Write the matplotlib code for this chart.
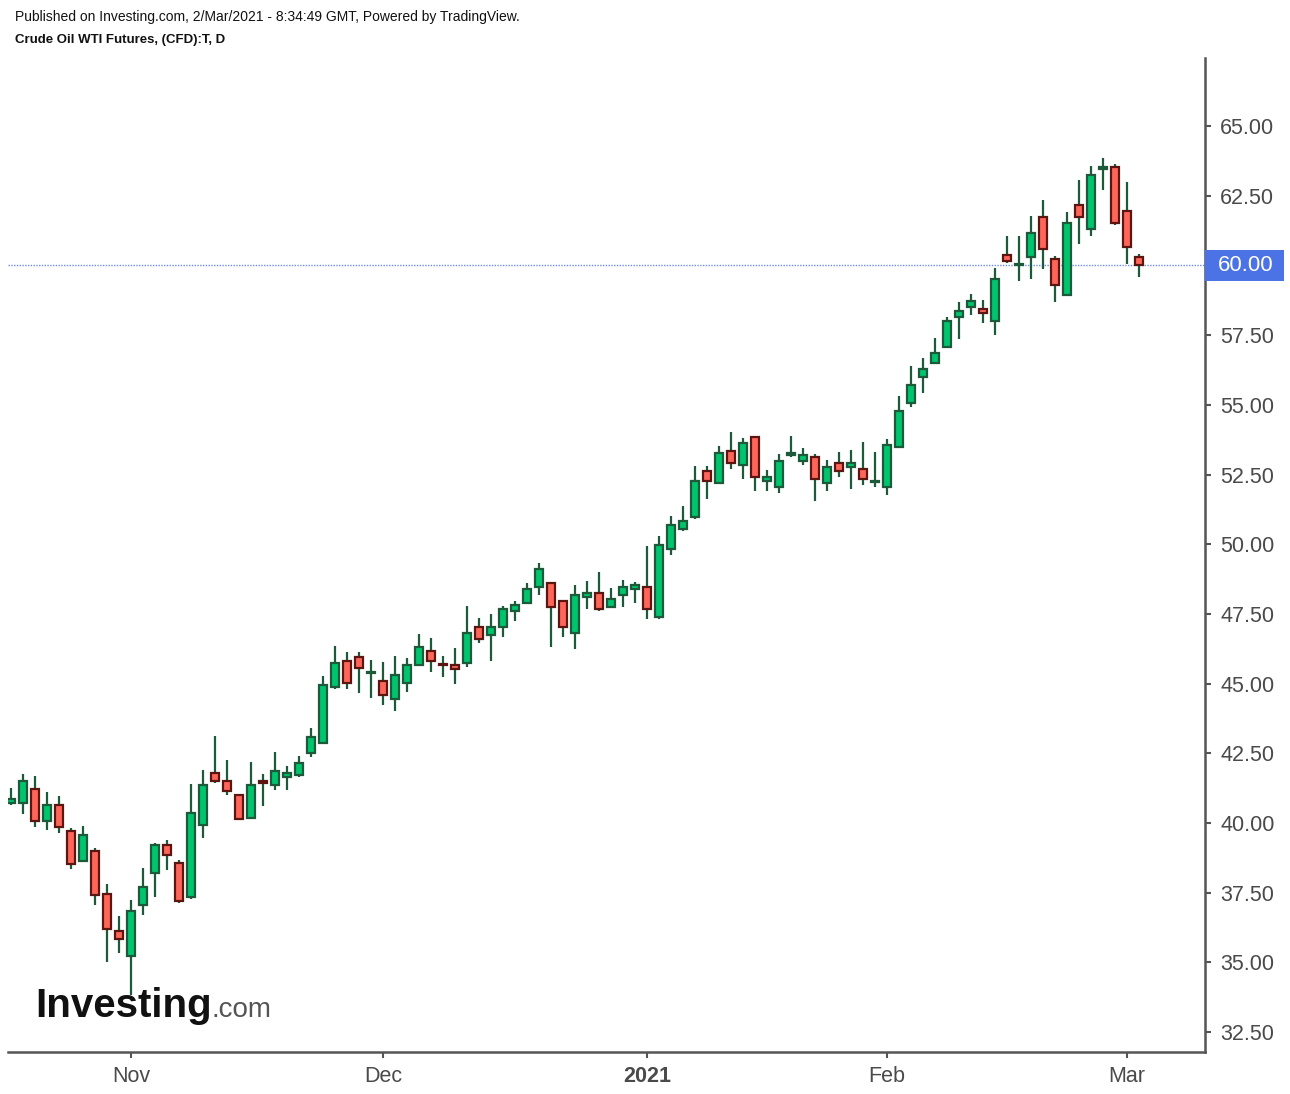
import matplotlib
matplotlib.use("Agg")
import matplotlib.pyplot as plt
import matplotlib.transforms as mtransforms
import numpy as np
import pandas as pd

plt.rcParams['font.family'] = ['Liberation Sans', 'DejaVu Sans']

# daily candles, Crude Oil WTI (CFD), 19 Oct 2020 - 2 Mar 2021
dates = pd.bdate_range('2020-10-19', '2021-03-02')
dates = dates[~dates.isin(pd.to_datetime(['2020-12-25', '2021-01-01']))]

opens = [40.73, 40.73, 41.23, 40.08, 40.66, 39.72, 38.63, 39.01, 37.44, 36.14,
         35.25, 37.07, 38.20, 39.22, 38.58, 37.36, 39.92, 41.81, 41.52, 41.02,
         40.20, 41.51, 41.35, 41.64, 41.71, 42.50, 42.86, 44.87, 45.82, 45.97,
         45.38, 45.10, 44.44, 45.01, 45.66, 46.18, 45.70, 45.68, 45.73, 47.04,
         46.73, 47.02, 47.59, 47.88, 48.45, 48.62, 47.97, 46.80, 48.12, 48.26,
         47.74, 48.17, 48.38, 48.48, 47.38, 49.82, 50.53, 50.96, 52.64, 52.19,
         53.35, 52.83, 53.86, 52.26, 52.04, 53.20, 52.97, 53.14, 52.19, 52.92,
         52.76, 52.71, 52.22, 52.04, 53.48, 55.05, 55.99, 56.49, 57.06, 58.14,
         58.50, 58.45, 58.00, 60.38, 60.02, 60.29, 61.75, 60.24, 58.93, 62.18,
         61.29, 63.45, 63.54, 61.96, 60.31]
highs = [41.26, 41.76, 41.69, 41.11, 40.97, 39.81, 39.89, 39.09, 37.81, 36.66,
         37.24, 38.38, 39.29, 39.39, 38.66, 41.40, 41.90, 43.12, 42.26, 41.05,
         42.19, 41.76, 42.55, 42.04, 42.40, 43.41, 45.27, 46.35, 46.13, 46.13,
         45.85, 45.77, 45.99, 45.92, 46.78, 46.64, 45.99, 46.28, 47.78, 47.35,
         47.50, 47.78, 47.97, 48.62, 49.34, 48.62, 47.97, 48.55, 48.69, 49.00,
         48.43, 48.72, 48.64, 49.94, 50.29, 51.01, 51.37, 52.80, 52.80, 53.52,
         54.02, 53.81, 53.86, 52.66, 53.24, 53.88, 53.45, 53.24, 53.02, 53.31,
         53.38, 53.67, 53.31, 53.78, 55.32, 56.39, 56.68, 57.40, 58.16, 58.69,
         58.97, 58.76, 59.91, 61.05, 61.05, 61.77, 62.35, 60.34, 61.92, 63.06,
         63.57, 63.85, 63.64, 62.99, 60.41]
lows = [40.65, 40.33, 39.85, 39.77, 39.63, 38.34, 38.63, 37.05, 35.01, 35.33,
        33.83, 36.69, 37.34, 38.31, 37.12, 37.26, 39.46, 41.42, 40.99, 40.10,
        40.18, 40.61, 41.18, 41.18, 41.64, 42.36, 42.86, 44.80, 44.80, 44.65,
        44.48, 44.22, 44.01, 44.70, 45.66, 45.42, 45.23, 44.99, 45.59, 46.45,
        45.80, 46.66, 47.23, 47.88, 48.17, 46.30, 46.66, 46.23, 47.67, 47.59,
        47.74, 47.74, 47.88, 47.31, 47.31, 49.60, 50.46, 50.89, 51.61, 52.19,
        52.69, 52.33, 51.90, 51.90, 51.83, 53.12, 52.83, 51.54, 51.90, 52.40,
        51.97, 52.11, 52.04, 51.75, 53.48, 54.91, 55.41, 56.49, 57.06, 57.35,
        58.21, 57.92, 57.49, 60.08, 59.43, 59.50, 59.86, 58.69, 58.93, 60.77,
        61.05, 62.70, 61.44, 60.05, 59.57]
closes = [40.87, 41.52, 40.08, 40.66, 39.85, 38.55, 39.58, 37.41, 36.19, 35.83,
          36.85, 37.72, 39.22, 38.84, 37.19, 40.37, 41.37, 41.50, 41.14, 40.13,
          41.37, 41.43, 41.88, 41.81, 42.16, 43.10, 44.96, 45.75, 45.01, 45.58,
          45.40, 44.58, 45.32, 45.68, 46.32, 45.80, 45.66, 45.51, 46.83, 46.59,
          47.04, 47.69, 47.83, 48.40, 49.12, 47.74, 47.02, 48.19, 48.26, 47.67,
          48.05, 48.48, 48.55, 47.67, 49.98, 50.70, 50.84, 52.28, 52.26, 53.28,
          52.90, 53.64, 52.40, 52.42, 53.00, 53.26, 53.21, 52.33, 52.78, 52.61,
          52.92, 52.33, 52.26, 53.57, 54.79, 55.72, 56.30, 56.87, 58.02, 58.38,
          58.73, 58.28, 59.52, 60.15, 60.06, 61.17, 60.58, 59.29, 61.53, 61.73,
          63.25, 63.52, 61.51, 60.65, 60.00]

y_ticks = np.arange(32.5, 65.1, 2.5)

o = np.array(opens)
h = np.array(highs)
l = np.array(lows)
c = np.array(closes)
x = np.arange(len(c))
up = c >= o

fig = plt.figure(figsize=(12.9, 10.94), dpi=100)
ax = fig.add_axes([8 / 1290, 1 - 1052 / 1094, 1197 / 1290, 994 / 1094])

wick_col = '#1c5a3a'
ax.vlines(x, l, h, color=wick_col, lw=1.6, zorder=2)
body_bottom = np.minimum(o, c)
body_h = np.maximum(np.abs(c - o), 0.04)
ax.bar(x[up], body_h[up], bottom=body_bottom[up], width=0.68,
       color='#00c46e', edgecolor='#1c5a3a', linewidth=1.6, zorder=3)
ax.bar(x[~up], body_h[~up], bottom=body_bottom[~up], width=0.68,
       color='#ff6659', edgecolor='#5c1612', linewidth=1.6, zorder=3)

# last price line + label
last = c[-1]
ax.axhline(last, color='#6f8cf0', ls=(0, (1, 1)), lw=1.0, zorder=1)
trans = mtransforms.blended_transform_factory(ax.transAxes, ax.transData)
ax.add_patch(plt.Rectangle((1.0, last - 0.57), 0.066, 1.14, transform=trans,
                           facecolor='#4b73e5', edgecolor='none', clip_on=False, zorder=5))
ax.text(1.011, last, '%.2f' % last, transform=trans, color='white', fontsize=16,
        va='center', ha='left', zorder=6, clip_on=False)

ax.set_xlim(-0.25, 99.5)
ax.set_ylim(31.79, 67.44)

# month ticks
months = dates.to_period('M')
tick_pos = [i for i in range(1, len(dates)) if months[i] != months[i - 1]]
tick_lab = [dates[i].strftime('%Y') if dates[i].month == 1 else dates[i].strftime('%b')
            for i in tick_pos]
ax.set_xticks(tick_pos)
ax.set_xticklabels(tick_lab)
for t in ax.get_xticklabels():
    if t.get_text().isdigit():
        t.set_fontweight('bold')

ax.yaxis.tick_right()
ax.set_yticks(y_ticks)
ax.set_yticklabels(['%.2f' % v for v in y_ticks])

for s in ['top', 'left']:
    ax.spines[s].set_visible(False)
for s in ['bottom', 'right']:
    ax.spines[s].set_color('#555555')
    ax.spines[s].set_linewidth(1.8)
ax.tick_params(axis='both', colors='#555555', labelcolor='#4a4a4a', labelsize=15.5,
               length=4, width=1.5)
ax.tick_params(axis='y', pad=7)
ax.tick_params(axis='x', pad=6)

# header
fig.text(15 / 1290, 1 - 17 / 1094, 'Published on Investing.com, 2/Mar/2021 - 8:34:49 GMT, Powered by TradingView.',
         fontsize=10, va='center', color='#111111')
fig.text(15 / 1290, 1 - 40 / 1094, 'Crude Oil WTI Futures, (CFD):T, D',
         fontsize=9.5, va='center', fontweight='bold', color='#111111')

# logo
fig.text(35 / 1290, 1 - 1017 / 1094, 'Investing', fontsize=29, fontweight='bold',
         va='baseline', color='#111111')
fig.text(212 / 1290, 1 - 1017 / 1094, '.com', fontsize=20, va='baseline', color='#555555')

plt.savefig('out.png', dpi=100)
